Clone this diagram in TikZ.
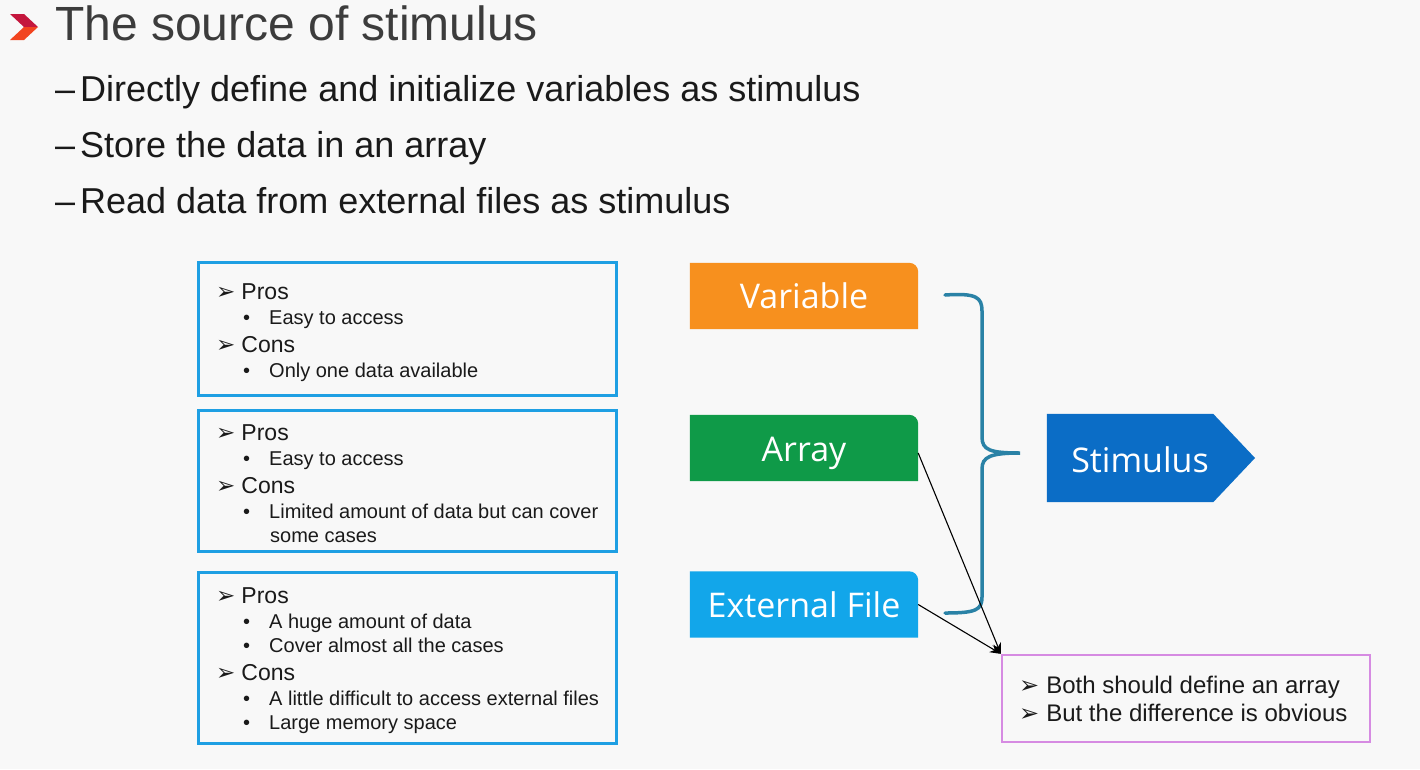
\documentclass[tikz,border=0pt]{standalone}
\usepackage{fontspec}
\setmainfont{Liberation Sans}
\newfontfamily\segf{Open Sans}
\newfontfamily\djv{DejaVu Sans}
\usetikzlibrary{arrows.meta}
\definecolor{bg}{HTML}{F8F8F8}
\definecolor{txt}{HTML}{1A1A1A}
\definecolor{ttl}{HTML}{3C3C3C}
\definecolor{boxblue}{HTML}{1E9FE3}
\definecolor{orng}{HTML}{F7901E}
\definecolor{grn}{HTML}{0F9A48}
\definecolor{lblue}{HTML}{12A6EA}
\definecolor{stimblue}{HTML}{0B6DC6}
\definecolor{brc}{HTML}{2A82A6}
\definecolor{purp}{HTML}{D68BE2}
\definecolor{chevA}{HTML}{C4173D}
\definecolor{chevB}{HTML}{F2441F}
\newcommand\myarr{{\djv\bfseries\char"27A2}}
\tikzset{
  ttlst/.style={anchor=base west, inner sep=0, text=ttl, font=\fontsize{48}{56}\selectfont},
  lvl/.style={anchor=base west, inner sep=0, text=txt, font=\fontsize{36}{42}\selectfont},
  hdr/.style={anchor=base west, inner sep=0, text=txt, font=\fontsize{23}{27}\selectfont},
  pinfo/.style={anchor=base west, inner sep=0, text=txt, font=\fontsize{24}{28}\selectfont},
  sub/.style={anchor=base west, inner sep=0, text=txt, font=\fontsize{20}{23}\selectfont},
  pbox/.style={draw=boxblue, line width=3pt, minimum width=418pt, inner sep=0, rectangle},
  cbox/.style={minimum width=228pt, minimum height=66pt, inner sep=0},
  clab/.style={anchor=base, inner sep=0, text=white, font=\segf\fontsize{34}{40}\selectfont},
}
\begin{document}
\begin{tikzpicture}[x=1pt,y=-1pt]
\useasboundingbox (0,0) rectangle (1420,769);
\fill[bg] (0,0) rectangle (1420,769);
% chevron
\fill[chevA] (10,14) -- (24,14) -- (38,27) -- (24,27) -- cycle;
\fill[chevB] (24,27) -- (38,27) -- (24,40) -- (10,40) -- cycle;
\node[ttlst] (title) at (55,40) {The source of stimulus};
\node[lvl] (l1) at (55,101.6) {–\hspace{5pt}Directly define and initialize variables as stimulus};
\node[lvl] (l2) at (55,157.6) {–\hspace{5pt}Store the data in an array};
\node[lvl] (l3) at (55,213.6) {–\hspace{5pt}Read data from external files as stimulus};
% left boxes
\node[pbox, minimum height=133pt] (b1) at (407,328.5) {};
\node[pbox, minimum height=141pt] (b2) at (407,480.5) {};
\node[pbox, minimum height=171pt] (b3) at (407,657.5) {};
% box1
\node[hdr] (b1a) at (216,299.3) {\myarr\hspace{6pt}Pros};
\node[sub] (b1b) at (243,324.2) {•\hspace{19pt}Easy to access};
\node[hdr] (b1c) at (216,352.3) {\myarr\hspace{6pt}Cons};
\node[sub] (b1d) at (243,377.2) {•\hspace{19pt}Only one data available};
% box2
\node[hdr] (b2a) at (216,440.3) {\myarr\hspace{6pt}Pros};
\node[sub] (b2b) at (243,465.2) {•\hspace{19pt}Easy to access};
\node[hdr] (b2c) at (216,493.3) {\myarr\hspace{6pt}Cons};
\node[sub] (b2d) at (243,518.2) {•\hspace{19pt}Limited amount of data but can cover};
\node[sub] (b2e) at (270,542.2) {some cases};
% box3
\node[hdr] (b3a) at (216,603.3) {\myarr\hspace{6pt}Pros};
\node[sub] (b3b) at (243,628.2) {•\hspace{19pt}A huge amount of data};
\node[sub] (b3c) at (243,652.2) {•\hspace{19pt}Cover almost all the cases};
\node[hdr] (b3d) at (216,680.3) {\myarr\hspace{6pt}Cons};
\node[sub] (b3e) at (243,705.2) {•\hspace{19pt}A little difficult to access external files};
\node[sub] (b3f) at (243,729.2) {•\hspace{19pt}Large memory space};
% colored boxes
\node[cbox] (var) at (804,296) {};
\node[cbox] (arr) at (804,448) {};
\node[cbox] (ext) at (804,604.5) {};
\fill[orng] (var.south west) -- (var.north west) -- ([xshift=-9pt]var.north east) arc[start angle=90,end angle=0,radius=9pt] -- (var.south east) -- cycle;
\fill[grn] (arr.south west) -- (arr.north west) -- ([xshift=-9pt]arr.north east) arc[start angle=90,end angle=0,radius=9pt] -- (arr.south east) -- cycle;
\fill[lblue] (ext.south west) -- (ext.north west) -- ([xshift=-9pt]ext.north east) arc[start angle=90,end angle=0,radius=9pt] -- (ext.south east) -- cycle;
\node[clab] (vart) at ([yshift=-12pt]var.center) {Variable};
\node[clab] (arrt) at ([yshift=-13pt]arr.center) {Array};
\node[clab] (extt) at ([yshift=-12.5pt]ext.center) {External File};
% brace
\draw[brc, line width=3.5pt, line cap=round] (945,295) .. controls (976,293) and (982,297) .. (982,311) -- (982,437) .. controls (982,450) and (990,453) .. (1020,453) .. controls (990,453) and (982,457) .. (982,469) -- (982,597) .. controls (982,610) and (976,613) .. (945,613);
% stimulus
\node[minimum width=166pt, minimum height=88pt, inner sep=0] (stim) at (1130,458) {};
\fill[stimblue] (stim.south west) -- (stim.north west) -- (stim.north east) -- (1255,458) -- (stim.south east) -- cycle;
\node[clab] (stimt) at (1140,472) {Stimulus};
% purple box
\node[draw=purp, line width=2.2pt, minimum width=368pt, minimum height=87pt, inner sep=0] (pb) at (1186,698.5) {};
\node[pinfo] (pb1) at (1019,693.5) {\myarr\hspace{7pt}Both should define an array};
\node[pinfo] (pb2) at (1019,721.5) {\myarr\hspace{7pt}But the difference is obvious};
% connectors
\draw[line width=1.1pt, -{Stealth[length=11pt,width=9pt]}] ([yshift=-5pt]arr.east) -- (pb.north west);
\draw[line width=1.1pt, -{Stealth[length=11pt,width=9pt]}] (ext.east) -- (pb.north west);
\end{tikzpicture}
\end{document}
